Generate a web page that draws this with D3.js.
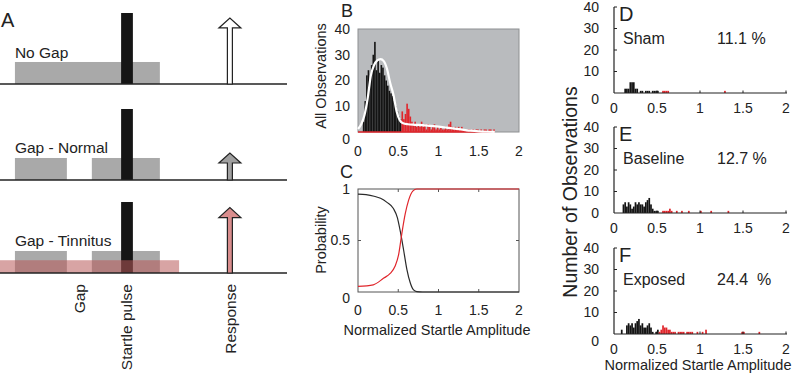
<!DOCTYPE html>
<html>
<head>
<meta charset="utf-8">
<script src="https://cdn.jsdelivr.net/npm/d3@7"></script>
<style>
  body { margin: 0; background: white; }
  text { font-family: "Liberation Sans", Arial, sans-serif; fill: #222; }
</style>
</head>
<body>
<div id="container"></div>
<script>
// ---------- data ----------
// panel A: timeline rows (time in arbitrary units 0-100, level in % of pulse height)
let rowLabels = ["No Gap", "Gap - Normal", "Gap - Tinnitus"];
let noiseSegments = [
  [[5.2, 55.7]],
  [[5.2, 23.3], [32, 55.7]],
  [[5.2, 23.3], [32, 55.7]]
];
let tinnitusSegment = [0, 62.4];
let pulseSegment = [42.2, 46.3];
let responseTime = 80.1;
let responseLevels = [93, 38, 92];
let noiseLevel = 31;
let tinnitusLevel = 18;
let timelineLabels = [
  {text: "Gap", t: 27.5},
  {text: "Startle pulse", t: 43.8},
  {text: "Response", t: 80.1}
];

// histograms: [bin start, count], bin width 0.02
let binWidth = 0.02;
let allBlack = [[0.06,4],[0.08,12],[0.10,22],[0.12,24],[0.14,20],[0.16,26],[0.18,30],[0.20,35],[0.22,24],
  [0.24,28],[0.26,23],[0.28,26],[0.30,25],[0.32,22],[0.34,20],[0.36,18],[0.38,16],[0.40,15],[0.42,14],
  [0.44,12],[0.46,10],[0.48,8],[0.50,6],[0.52,5]];
let allRed = [[0.54,8],[0.56,5],[0.58,7],[0.60,11],[0.62,9],[0.64,6],[0.66,4],[0.68,3],[0.70,4],[0.72,2],
  [0.74,3],[0.76,2],[0.78,4],[0.80,2],[0.82,3],[0.84,1],[0.86,3],[0.88,2],[0.90,1],[0.92,2],[0.94,3],
  [0.96,1],[0.98,2],[1.00,1],[1.02,2],[1.04,1],[1.06,1],[1.08,2],[1.10,1],[1.12,3],[1.14,4],[1.16,2],
  [1.18,1],[1.20,2],[1.22,1],[1.24,2],[1.26,1],[1.28,2],[1.30,1],[1.32,1],[1.36,1],[1.38,1],[1.42,1],
  [1.46,1],[1.48,1],[1.52,1],[1.56,1],[1.58,1],[1.62,1],[1.64,1],[1.68,1]];
let fitX = [0,0.04,0.08,0.12,0.16,0.20,0.24,0.28,0.32,0.36,0.40,0.44,0.48,0.52,0.56,0.62,0.70,0.80,0.90,1.00,1.10,1.20,1.30,1.40,1.50,1.60,1.70];
let fitY = [1.2,3,6.5,13,22,26,27.8,28.3,27.5,24.5,19,14.5,8,4.5,3.4,3,2.8,2.7,2.4,2.1,1.7,1.3,0.9,0.5,0.25,0.1,0.03];

// panel C: probabilities
let probX = [0,0.1,0.2,0.28,0.36,0.44,0.49,0.525,0.566,0.607,0.649,0.69,0.73,0.8,1.0,1.5,2.0];
let probBlack = [0.95,0.945,0.93,0.91,0.87,0.81,0.72,0.59,0.41,0.22,0.09,0.02,0.003,0,0,0,0];
let redX = [0,0.19,0.32,0.40,0.46,0.504,0.545,0.587,0.628,0.68,0.73,0.8,1.0,1.5,2.0];
let probRed = [0.055,0.07,0.135,0.18,0.25,0.36,0.57,0.76,0.89,0.98,1,1,1,1,1];

// panels D-F
let groupNames = ["Sham", "Baseline", "Exposed"];
let groupLetters = ["D", "E", "F"];
let groupPercents = ["11.1 %", "12.7 %", "24.4  %"];
let shamBlack = [[0.12,2],[0.14,2],[0.16,2],[0.18,5],[0.20,5],[0.22,5],[0.24,2],[0.26,2],[0.30,1],[0.32,1],
  [0.36,1],[0.38,1],[0.40,1],[0.44,1],[0.46,1],[0.48,1],[0.50,1]];
let shamRed = [[0.56,1],[0.58,1],[0.60,1],[0.62,1],[1.28,1]];
let baseBlack = [[0.10,4],[0.12,5],[0.14,3],[0.16,5],[0.18,4],[0.20,2],[0.22,3],[0.24,5],[0.26,4],[0.28,5],
  [0.30,4],[0.32,4],[0.34,3],[0.36,5],[0.38,6],[0.40,7],[0.42,4],[0.44,2],[0.46,1],[0.48,1],[0.50,1]];
let baseRed = [[0.56,1],[0.58,1],[0.60,1],[0.62,1],[0.64,2],[0.66,1],[0.72,1],[0.78,1],[0.86,1],[1.00,1],[1.12,1],[1.32,1]];
let expBlack = [[0.08,2],[0.14,4],[0.16,5],[0.18,4],[0.20,5],[0.22,3],[0.24,5],[0.26,6],[0.28,7],[0.30,4],
  [0.32,5],[0.34,3],[0.36,3],[0.38,4],[0.40,5],[0.42,3],[0.44,1],[0.48,1],[0.50,2]];
let expRed = [[0.52,1],[0.54,2],[0.56,4],[0.58,3],[0.60,3],[0.62,2],[0.64,2],[0.66,1],[0.68,1],[0.70,1],
  [0.74,1],[0.76,1],[0.78,1],[0.80,1],[0.84,1],[0.86,1],[0.88,1],[0.90,1],[0.96,1],[1.02,1],[1.06,2],
  [1.48,1],[1.50,1],[1.68,1]];
let groupBlack = [shamBlack, baseBlack, expBlack];
let groupRed = [shamRed, baseRed, expRed];

let xTicks = [0, 0.5, 1, 1.5, 2];
let countTicks = [0, 10, 20, 30, 40];
let probTicks = [0, 0.5, 1];

// ---------- setup ----------
let w = 800;
let h = 375;
let viz = d3.select("#container")
  .append("svg")
    .attr("width", w)
    .attr("height", h)
    .style("background-color", "white");

let red = "#e0262c";
let black = "#141414";

// ---------- panel A ----------
let tA = d3.scaleLinear().domain([0, 100]).range([0, 287]);
let lvl = d3.scaleLinear().domain([0, 100]).range([0, 71]);
let baselines = [84, 180, 273];
let labelBase = [58, 153, 246];

let gA = viz.append("g").attr("class", "panelA");
gA.append("text").attr("x", 1).attr("y", 27).style("font-size", "20px").text("A");

rowLabels.forEach(function(label, i){
  let b = baselines[i];
  let row = gA.append("g");
  row.selectAll(".noise").data(noiseSegments[i]).enter().append("rect")
    .attr("x", d => tA(d[0]))
    .attr("width", d => tA(d[1]) - tA(d[0]))
    .attr("y", b - lvl(noiseLevel))
    .attr("height", lvl(noiseLevel))
    .attr("fill", "#a9a9a9");
  row.append("rect")
    .attr("x", tA(pulseSegment[0]))
    .attr("width", tA(pulseSegment[1]) - tA(pulseSegment[0]))
    .attr("y", b - lvl(100))
    .attr("height", lvl(100))
    .attr("fill", "#151515");
  if (i == 2) {
    row.append("rect")
      .attr("x", tA(tinnitusSegment[0]))
      .attr("width", tA(tinnitusSegment[1]) - tA(tinnitusSegment[0]))
      .attr("y", b - lvl(tinnitusLevel))
      .attr("height", lvl(tinnitusLevel))
      .attr("fill", "#b85a5a")
      .attr("opacity", 0.55);
  }
  row.append("line")
    .attr("x1", tA(0)).attr("x2", tA(100))
    .attr("y1", b).attr("y2", b)
    .attr("stroke", "#222").attr("stroke-width", 1.5);

  // response arrow
  let cx = tA(responseTime);
  let top = b - lvl(responseLevels[i]);
  let headH = 10, headW = 11, shaftW = 2.5;
  let fills = ["white", "#a0a0a0", "#d98d8d"];
  row.append("path")
    .attr("d", "M" + (cx - shaftW) + "," + b + " L" + (cx - shaftW) + "," + (top + headH) +
      " L" + (cx - headW) + "," + (top + headH) + " L" + cx + "," + top +
      " L" + (cx + headW) + "," + (top + headH) + " L" + (cx + shaftW) + "," + (top + headH) +
      " L" + (cx + shaftW) + "," + b + " Z")
    .attr("fill", fills[i])
    .attr("stroke", "#222")
    .attr("stroke-width", 1.2);

  row.append("text")
    .attr("x", tA(5.2))
    .attr("y", labelBase[i])
    .style("font-size", "15.5px")
    .text(label);
});

gA.selectAll(".tlabel").data(timelineLabels).enter().append("text")
  .attr("transform", d => "translate(" + (tA(d.t) + 6) + ",284) rotate(-90)")
  .attr("text-anchor", "end")
  .style("font-size", "15.5px")
  .text(d => d.text);

// ---------- shared helpers ----------
function drawBars(g, data, xs, ys, color){
  g.selectAll(null).data(data).enter().append("rect")
    .attr("x", d => xs(d[0]))
    .attr("width", d => xs(d[0] + binWidth) - xs(d[0]))
    .attr("y", d => ys(d[1]))
    .attr("height", d => ys(0) - ys(d[1]))
    .attr("fill", color);
}

function yLabels(g, ticks, ys, xRight, fmt, zeroShift){
  g.selectAll(null).data(ticks).enter().append("text")
    .attr("x", xRight)
    .attr("y", d => ys(d) + (d === 0 ? zeroShift : 0))
    .attr("dy", "0.35em")
    .attr("text-anchor", "end")
    .style("font-size", "14px")
    .text(fmt);
}

function xLabels(g, xs, y){
  g.selectAll(null).data(xTicks).enter().append("text")
    .attr("x", d => xs(d))
    .attr("y", y)
    .attr("dy", "0.35em")
    .attr("text-anchor", "middle")
    .style("font-size", "14px")
    .text(d => d3.format("")(d));
}

// ---------- panel B ----------
let xB = d3.scaleLinear().domain([0, 2]).range([358, 519]);
let yB = d3.scaleLinear().domain([0, 40]).range([132, 29]);
let gB = viz.append("g").attr("class", "panelB");
gB.append("text").attr("x", 341).attr("y", 17).style("font-size", "18px").text("B");
gB.append("rect")
  .attr("x", xB(0)).attr("y", yB(40))
  .attr("width", xB(2) - xB(0)).attr("height", yB(0) - yB(40))
  .attr("fill", "#b9bbbe").attr("stroke", "#8e9092");
drawBars(gB, allBlack, xB, yB, black);
drawBars(gB, allRed, xB, yB, red);
gB.append("line")
  .attr("x1", xB(0)).attr("x2", xB(allRed[allRed.length - 1][0] + binWidth))
  .attr("y1", yB(0)).attr("y2", yB(0))
  .attr("stroke", red).attr("stroke-width", 1.5);
let fitLine = d3.line().x((d, i) => xB(fitX[i])).y(d => yB(d)).curve(d3.curveMonotoneX);
gB.append("path").attr("d", fitLine(fitY))
  .attr("fill", "none").attr("stroke", "white").attr("stroke-width", 2.2);
yLabels(gB, countTicks, yB, 350, d => d, 7);
xLabels(gB, xB, 151);
gB.append("text")
  .attr("transform", "translate(326," + 76 + ") rotate(-90)")
  .attr("text-anchor", "middle")
  .style("font-size", "14.5px")
  .text("All Observations");

// ---------- panel C ----------
let xC = d3.scaleLinear().domain([0, 2]).range([358, 519]);
let yC = d3.scaleLinear().domain([0, 1]).range([292, 189]);
let gC = viz.append("g").attr("class", "panelC");
gC.append("text").attr("x", 340).attr("y", 178).style("font-size", "18px").text("C");
gC.append("rect")
  .attr("x", xC(0)).attr("y", yC(1))
  .attr("width", xC(2) - xC(0)).attr("height", yC(0) - yC(1))
  .attr("fill", "white").attr("stroke", "#555");
let innerX = xTicks.slice(1, 4);
gC.selectAll(null).data(innerX).enter().append("line")
  .attr("x1", d => xC(d)).attr("x2", d => xC(d))
  .attr("y1", yC(0)).attr("y2", yC(0) - 3).attr("stroke", "#555");
gC.selectAll(null).data(innerX).enter().append("line")
  .attr("x1", d => xC(d)).attr("x2", d => xC(d))
  .attr("y1", yC(1)).attr("y2", yC(1) + 3).attr("stroke", "#555");
gC.append("line").attr("x1", xC(0)).attr("x2", xC(0) + 3)
  .attr("y1", yC(0.5)).attr("y2", yC(0.5)).attr("stroke", "#555");
gC.append("line").attr("x1", xC(2)).attr("x2", xC(2) - 3)
  .attr("y1", yC(0.5)).attr("y2", yC(0.5)).attr("stroke", "#555");
let blackLine = d3.line().x((d, i) => xC(probX[i])).y(d => yC(d)).curve(d3.curveMonotoneX);
let redLine = d3.line().x((d, i) => xC(redX[i])).y(d => yC(d)).curve(d3.curveMonotoneX);
gC.append("path").attr("d", blackLine(probBlack))
  .attr("fill", "none").attr("stroke", "#2a2a2a").attr("stroke-width", 1.2);
gC.append("path").attr("d", redLine(probRed))
  .attr("fill", "none").attr("stroke", red).attr("stroke-width", 1.2);
yLabels(gC, probTicks, yC, 350, d => d, 6);
xLabels(gC, xC, 310);
gC.append("text")
  .attr("transform", "translate(326," + 240 + ") rotate(-90)")
  .attr("text-anchor", "middle")
  .style("font-size", "14.5px")
  .text("Probability");
gC.append("text")
  .attr("x", 437).attr("y", 335)
  .attr("text-anchor", "middle")
  .style("font-size", "14.5px")
  .text("Normalized Startle Amplitude");

// ---------- panels D-F ----------
let xD = d3.scaleLinear().domain([0, 2]).range([614, 786]);
let panelTops = [7, 127, 248];
let zeroShifts = [6, 0, 7];

groupNames.forEach(function(name, i){
  let top = panelTops[i];
  let yD = d3.scaleLinear().domain([0, 40]).range([top + 86, top]);
  let g = viz.append("g").attr("class", "panel" + groupLetters[i]);

  drawBars(g, groupBlack[i], xD, yD, black);
  drawBars(g, groupRed[i], xD, yD, red);

  g.append("line").attr("x1", xD(0)).attr("x2", xD(2) + 1)
    .attr("y1", yD(0)).attr("y2", yD(0)).attr("stroke", "#222").attr("stroke-width", 1.2);
  g.append("line").attr("x1", xD(0)).attr("x2", xD(0))
    .attr("y1", yD(0)).attr("y2", yD(40)).attr("stroke", "#222").attr("stroke-width", 1.2);
  g.selectAll(null).data(xTicks.slice(1)).enter().append("line")
    .attr("x1", d => xD(d)).attr("x2", d => xD(d))
    .attr("y1", yD(0)).attr("y2", yD(0) - 2.5).attr("stroke", "#222");
  g.selectAll(null).data(countTicks.slice(1)).enter().append("line")
    .attr("x1", xD(0)).attr("x2", xD(0) + 3)
    .attr("y1", d => yD(d)).attr("y2", d => yD(d)).attr("stroke", "#222");

  yLabels(g, countTicks, yD, 599, d => d, zeroShifts[i]);
  xLabels(g, xD, yD(0) + 15);

  g.append("text").attr("x", 619).attr("y", top + 14)
    .style("font-size", "20px").text(groupLetters[i]);
  g.append("text").attr("x", 623).attr("y", top + 37)
    .style("font-size", "16px").text(name);
  g.append("text").attr("x", 717).attr("y", top + 37)
    .style("font-size", "16px").style("white-space", "pre").text(groupPercents[i]);
});

viz.append("text")
  .attr("transform", "translate(577,192) rotate(-90)")
  .attr("text-anchor", "middle")
  .style("font-size", "19.5px")
  .text("Number of Observations");
viz.append("text")
  .attr("x", 698).attr("y", 370)
  .attr("text-anchor", "middle")
  .style("font-size", "14.5px")
  .text("Normalized Startle Amplitude");
</script>
</body>
</html>
